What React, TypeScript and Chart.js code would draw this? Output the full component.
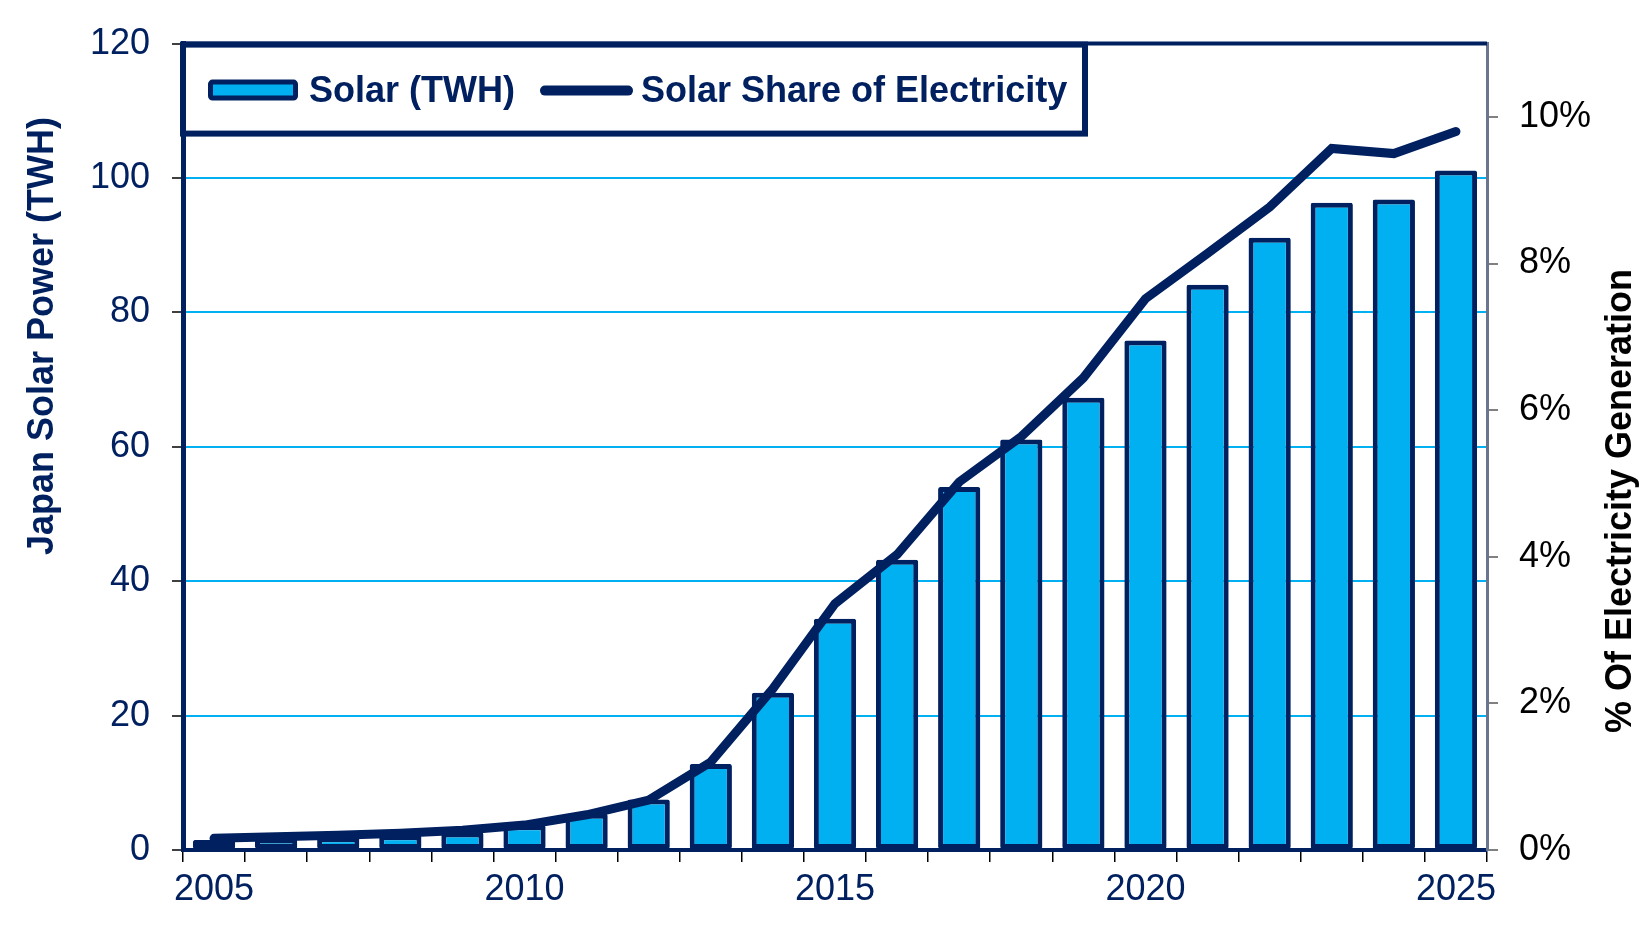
import React, { useEffect, useRef } from 'react';
import { Chart, registerables } from 'chart.js';

Chart.register(...registerables);

// ---- data ----
const years: string[] = [
  '2005', '2006', '2007', '2008', '2009', '2010', '2011', '2012', '2013', '2014', '2015',
  '2016', '2017', '2018', '2019', '2020', '2021', '2022', '2023', '2024', '2025',
];
const solarTWh: number[] = [
  1.5, 1.7, 1.9, 2.2, 2.6, 3.7, 5.4, 7.5, 12.8, 23.4, 34.4,
  43.2, 54.0, 61.1, 67.3, 75.8, 84.1, 91.1, 96.3, 96.8, 101.1,
];
const sharePct: number[] = [
  0.16, 0.18, 0.2, 0.23, 0.27, 0.34, 0.48, 0.68, 1.2, 2.2, 3.36,
  4.03, 5.02, 5.64, 6.44, 7.52, 8.14, 8.77, 9.57, 9.5, 9.8,
];
const labeledYears: string[] = ['2005', '2010', '2015', '2020', '2025'];
const leftTitle = 'Japan Solar Power (TWH)';
const rightTitle = '% Of Electricity Generation';
const barLabel = 'Solar (TWH)';
const lineLabel = 'Solar Share of Electricity';

const NAVY = '#002060';
const CYAN = '#00B0F0';
const FONT = "'Liberation Sans', Arial, sans-serif";

const framePlugin = {
  id: 'frameAndLegend',
  afterDraw(chart: any) {
    const { ctx, chartArea } = chart;
    const ca = chartArea;
    ctx.save();
    // top border of plot
    ctx.strokeStyle = NAVY;
    ctx.lineWidth = 4;
    ctx.beginPath();
    ctx.moveTo(ca.left, ca.top);
    ctx.lineTo(ca.right, ca.top);
    ctx.stroke();

    // legend box
    const bx = ca.left;
    const by = ca.top + 1;
    const bw = 902;
    const bh = 89;
    ctx.fillStyle = '#ffffff';
    ctx.fillRect(bx, by, bw, bh);
    ctx.lineWidth = 6;
    ctx.strokeStyle = NAVY;
    ctx.strokeRect(bx, by, bw, bh);

    const ds = chart.data.datasets;
    const cy = by + 46;
    // bar swatch
    const sx = bx + 25;
    ctx.fillStyle = ds[0].backgroundColor;
    ctx.beginPath();
    (ctx as any).roundRect(sx + 2.5, cy - 8.5, 85, 16, 2);
    ctx.fill();
    ctx.lineWidth = 5;
    ctx.strokeStyle = ds[0].borderColor;
    ctx.stroke();
    ctx.font = `bold 36px ${FONT}`;
    ctx.fillStyle = NAVY;
    ctx.textBaseline = 'alphabetic';
    ctx.textAlign = 'left';
    ctx.fillText(ds[0].label, bx + 126, cy + 11);
    // line swatch
    ctx.strokeStyle = ds[1].borderColor;
    ctx.lineWidth = 10;
    ctx.lineCap = 'round';
    ctx.beginPath();
    ctx.moveTo(bx + 362, cy);
    ctx.lineTo(bx + 445, cy);
    ctx.stroke();
    ctx.fillText(ds[1].label, bx + 458, cy + 11);

    // axis titles
    ctx.font = `bold 36px ${FONT}`;
    ctx.textAlign = 'center';
    ctx.textBaseline = 'middle';
    ctx.save();
    ctx.translate(43, 336);
    ctx.rotate(-Math.PI / 2);
    ctx.fillStyle = NAVY;
    ctx.fillText(leftTitle, 0, 0);
    ctx.restore();
    ctx.save();
    ctx.translate(1621, 501);
    ctx.rotate(-Math.PI / 2);
    ctx.fillStyle = '#000000';
    ctx.fillText(rightTitle, 0, 0);
    ctx.restore();
    ctx.restore();
  },
};

export default function App() {
  const ref = useRef<HTMLCanvasElement | null>(null);
  useEffect(() => {
    if (!ref.current) return;
    const chart = new Chart(ref.current, {
      type: 'bar',
      data: {
        labels: years,
        datasets: [
          {
            type: 'bar',
            label: barLabel,
            data: solarTWh,
            backgroundColor: CYAN,
            borderColor: NAVY,
            borderWidth: 5,
            borderSkipped: false,
            borderRadius: 2,
            barPercentage: 0.68,
            categoryPercentage: 1.0,
            yAxisID: 'y',
            order: 1,
          } as any,
          {
            type: 'line',
            label: lineLabel,
            data: sharePct,
            borderColor: NAVY,
            backgroundColor: NAVY,
            borderWidth: 9,
            pointRadius: 0,
            borderCapStyle: 'round',
            tension: 0,
            yAxisID: 'y1',
            order: 0,
          } as any,
        ],
      },
      options: {
        animation: false,
        responsive: true,
        maintainAspectRatio: false,
        layout: { padding: { top: 40, left: 0, right: 0, bottom: 0 } },
        plugins: {
          legend: { display: false },
          tooltip: { enabled: false },
        },
        scales: {
          x: {
            type: 'category',
            offset: true,
            grid: {
              offset: true,
              drawOnChartArea: false,
              color: '#000000',
              lineWidth: 1.5,
              tickLength: 12,
            },
            border: { color: NAVY, width: 4 },
            ticks: {
              autoSkip: false,
              maxRotation: 0,
              minRotation: 0,
              color: NAVY,
              font: { size: 36, family: FONT },
              padding: 6,
              callback: (_v: any, i: number) => (labeledYears.includes(years[i]) ? years[i] : ''),
            },
            afterFit: (s: any) => { s.height = 89; },
          },
          y: {
            position: 'left',
            min: 0,
            max: 120,
            grid: {
              color: CYAN,
              lineWidth: 2,
              tickColor: '#000000',
              tickWidth: 1.5,
              tickLength: 11,
            },
            border: { color: NAVY, width: 5 },
            ticks: {
              stepSize: 20,
              color: NAVY,
              font: { size: 36, family: FONT },
              padding: 22,
            },
            afterFit: (s: any) => { s.width = 183; },
          },
          y1: {
            position: 'right',
            min: 0,
            max: 11,
            grid: {
              drawOnChartArea: false,
              color: '#808080',
              lineWidth: 2,
              tickLength: 11,
            },
            border: { color: '#6a7590', width: 3 },
            ticks: {
              stepSize: 2,
              color: '#000000',
              font: { size: 36, family: FONT },
              padding: 21,
              callback: (v: any) => `${v}%`,
            },
            afterBuildTicks: (s: any) => {
              s.ticks = s.ticks.filter((t: any) => t.value % 2 === 0);
            },
            afterFit: (s: any) => { s.width = 163; },
          },
        },
      },
      plugins: [framePlugin],
    });
    return () => chart.destroy();
  }, []);

  return (
    <div style={{ position: 'absolute', left: 0, top: 0, width: 1650, height: 939, background: '#ffffff' }}>
      <canvas ref={ref} />
    </div>
  );
}
